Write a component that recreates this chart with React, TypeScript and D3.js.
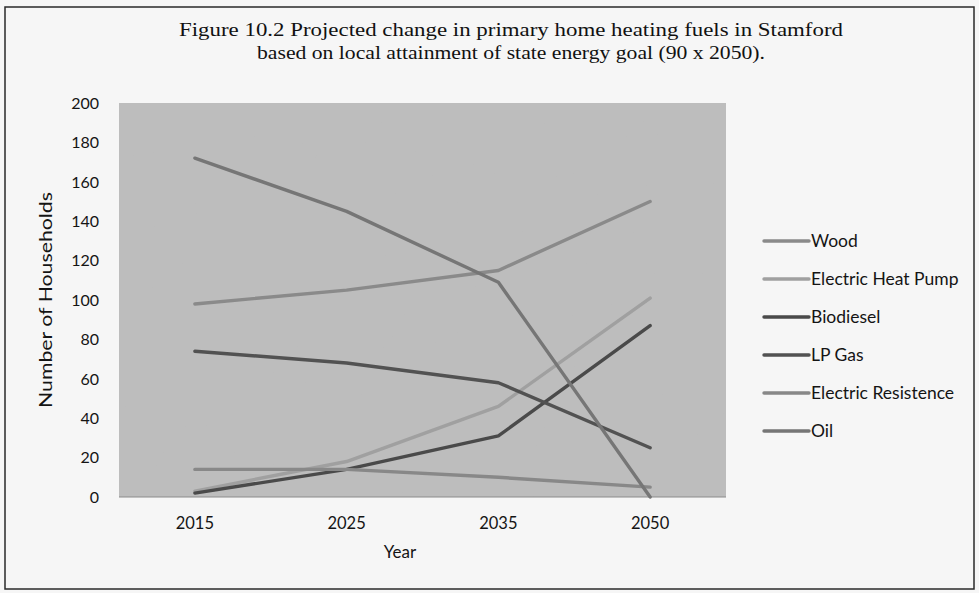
import React from "react";
import * as d3 from "d3";

const years = ["2015", "2025", "2035", "2050"];
const seriesNames = ["Wood", "Electric Heat Pump", "Biodiesel", "LP Gas", "Electric Resistence", "Oil"];
const wood = [98, 105, 115, 150];
const heatPump = [3, 18, 46, 101];
const biodiesel = [2, 14, 31, 87];
const lpGas = [74, 68, 58, 25];
const electricResistence = [14, 14, 10, 5];
const oil = [172, 145, 109, 0];
const yTicks = [0, 20, 40, 60, 80, 100, 120, 140, 160, 180, 200];
const titleLines = [
  "Figure 10.2 Projected change in primary home heating fuels in Stamford",
  "based on local attainment of state energy goal (90 x 2050).",
];
const seriesColors = ["#8a8a8a", "#a0a0a0", "#4a4a4a", "#525252", "#888888", "#767676"];

const W = 979;
const H = 593;
const plot = { left: 119, right: 726, top: 103, bottom: 497 };

export default function App() {
  const values = [wood, heatPump, biodiesel, lpGas, electricResistence, oil];
  const x = d3.scaleBand<string>().domain(years).range([plot.left, plot.right]).padding(0);
  const cx = (yr: string) => (x(yr) as number) + x.bandwidth() / 2;
  const y = d3.scaleLinear().domain([0, 200]).range([plot.bottom, plot.top]);
  const line = d3
    .line<number>()
    .x((_, i) => cx(years[i]))
    .y((v) => y(v));

  const legendX1 = 764;
  const legendX2 = 809;
  const legendY0 = 241;
  const legendStep = 38;
  const sans = "Lato, 'Open Sans', sans-serif";
  const ink = "#141414";

  return (
    <svg
      width={W}
      height={H}
      viewBox={`0 0 ${W} ${H}`}
      style={{ position: "absolute", left: 0, top: 0 }}
    >
      <defs>
        <filter id="grain" x="0" y="0" width="100%" height="100%">
          <feTurbulence type="fractalNoise" baseFrequency="0.9" numOctaves="2" seed="3" result="n" />
          <feColorMatrix
            in="n"
            type="matrix"
            values="0 0 0 0 0.5  0 0 0 0 0.5  0 0 0 0 0.5  0 0 0 0.3 0"
            result="g"
          />
          <feComposite in="g" in2="SourceGraphic" operator="in" result="gi" />
          <feMerge>
            <feMergeNode in="SourceGraphic" />
            <feMergeNode in="gi" />
          </feMerge>
        </filter>
      </defs>
      <rect x={0} y={0} width={W} height={H} fill="#f6f6f6" />
      <rect x={5} y={7} width={969} height={582} fill="none" stroke="#2a2a2a" strokeWidth={1.5} />

      {titleLines.map((t, i) => (
        <text
          key={t}
          x={511}
          y={36 + i * 23}
          textAnchor="middle"
          fontFamily="'Liberation Serif', 'Times New Roman', Times, serif"
          fontSize={19.5}
          fill="#111"
          textLength={i === 0 ? 664 : 508}
          lengthAdjust="spacingAndGlyphs"
        >
          {t}
        </text>
      ))}

      <rect
        x={plot.left}
        y={plot.top}
        width={plot.right - plot.left}
        height={plot.bottom - plot.top}
        fill="#bdbdbd"
        filter="url(#grain)"
      />
      <line x1={plot.left} x2={plot.right} y1={plot.bottom} y2={plot.bottom} stroke="#8a8a8a" strokeWidth={1} />

      {yTicks.map((t) => (
        <text
          key={t}
          x={99}
          y={y(t)}
          dy="0.36em"
          textAnchor="end"
          fontFamily={sans}
          fontSize={16}
          fill={ink}
        >
          {t}
        </text>
      ))}
      <text
        transform={`translate(52,${(plot.top + plot.bottom) / 2}) rotate(-90)`}
        textAnchor="middle"
        fontFamily={sans}
        fontSize={18}
        fill={ink}
        textLength={216}
        lengthAdjust="spacingAndGlyphs"
      >
        Number of Households
      </text>

      {years.map((yr) => (
        <text key={yr} x={cx(yr)} y={529} textAnchor="middle" fontFamily={sans} fontSize={16.5} fill={ink}>
          {yr}
        </text>
      ))}
      <text x={400} y={558} textAnchor="middle" fontFamily={sans} fontSize={17} fill={ink}>
        Year
      </text>

      {values.map((vals, i) => (
        <path
          key={seriesNames[i]}
          d={line(vals) as string}
          fill="none"
          stroke={seriesColors[i]}
          strokeWidth={3.4}
          strokeLinecap="round"
          strokeLinejoin="round"
        />
      ))}

      {seriesNames.map((name, i) => {
        const ly = legendY0 + i * legendStep;
        return (
          <g key={name}>
            <line
              x1={legendX1}
              x2={legendX2}
              y1={ly}
              y2={ly}
              stroke={seriesColors[i]}
              strokeWidth={3.4}
              strokeLinecap="round"
            />
            <text x={legendX2 + 2} y={ly} dy="0.36em" fontFamily={sans} fontSize={17.5} fill={ink}>
              {name}
            </text>
          </g>
        );
      })}
    </svg>
  );
}
